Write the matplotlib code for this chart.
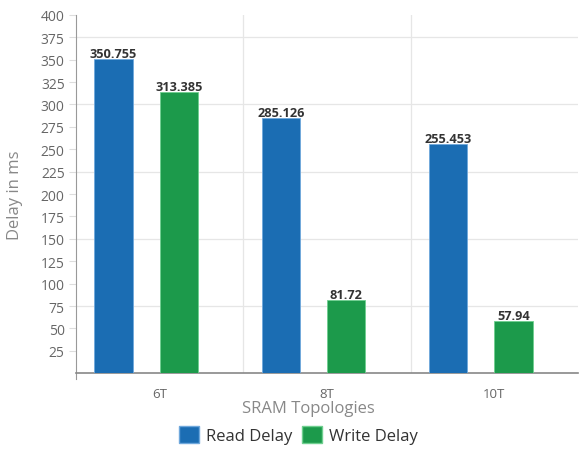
import numpy as np
import matplotlib.pyplot as plt
from matplotlib.patches import Patch

plt.rcParams['font.family'] = ['Open Sans', 'DejaVu Sans']

# data
topologies = ['6T', '8T', '10T']
read_delay = [350.755, 285.126, 255.453]
write_delay = [313.385, 81.72, 57.94]
read_labels = ['350.755', '285.126', '255.453']
write_labels = ['313.385', '81.72', '57.94']

blue = '#1b6db3'
green = '#1c9a4b'

fig = plt.figure(figsize=(5.79, 4.52), dpi=100)
ax = fig.add_axes([0.131, 0.172, 0.867, 0.793])

x = np.arange(len(topologies))
w = 0.23
b1 = ax.bar(x - 0.275, read_delay, w, color=blue, edgecolor='#6fa8dc', linewidth=0.6, zorder=3)
b2 = ax.bar(x + 0.115, write_delay, w, color=green, edgecolor='#6fcf8f', linewidth=0.6, zorder=3)

for rects, labs in [(b1, read_labels), (b2, write_labels)]:
    for r, lab in zip(rects, labs):
        ax.text(r.get_x() + r.get_width() / 2, r.get_height() - 1, lab,
                ha='center', va='bottom', fontsize=9.2, fontweight='bold',
                color='#333333', zorder=4)

ax.set_xlim(-0.5, 2.5)
ax.set_ylim(0, 400)
ax.set_yticks(np.arange(25, 401, 25))
ax.set_xticks(x)
ax.set_xticklabels(topologies)

# gridlines: horizontal every 75, vertical at category boundaries
for yv in np.arange(75, 400, 75):
    ax.axhline(yv, color='#e6e6e6', linewidth=0.9, zorder=1)
for xv in [0.5, 1.5]:
    ax.axvline(xv, color='#e6e6e6', linewidth=0.9, zorder=1)

for s in ['top', 'right']:
    ax.spines[s].set_visible(False)
ax.spines['left'].set_color('#999999')
ax.spines['bottom'].set_color('#888888')
ax.spines['bottom'].set_linewidth(1.2)
ax.spines['left'].set_bounds(-6, 400)

ax.tick_params(axis='y', length=5, color='#dddddd', labelsize=10, labelcolor='#666666', pad=3)
ax.tick_params(axis='x', length=0, labelsize=9.5, labelcolor='#666666', pad=10)

ax.set_ylabel('Delay in ms', fontsize=12, color='#888888')
ax.set_xlabel('SRAM Topologies', fontsize=12, color='#888888')
ax.yaxis.set_label_coords(-0.106, 0.5)
ax.xaxis.set_label_coords(0.464, -0.076)

handles = [Patch(facecolor=blue, edgecolor='#6fa8dc', label='Read Delay'),
           Patch(facecolor=green, edgecolor='#6fcf8f', label='Write Delay')]
fig.legend(handles=handles, loc='center', bbox_to_anchor=(0.515, 0.035), ncol=2,
           frameon=False, fontsize=12, handlelength=1.2, handleheight=1.2,
           handletextpad=0.4, columnspacing=0.6, labelcolor='#333333')

fig.savefig('out.png', dpi=100)
